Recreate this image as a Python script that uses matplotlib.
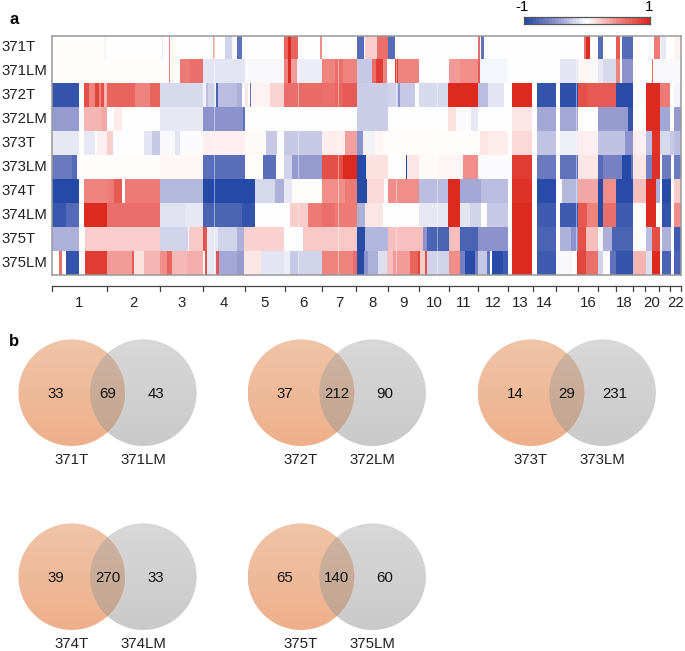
import matplotlib
matplotlib.use('Agg')
import matplotlib.pyplot as plt
import numpy as np
from matplotlib.colors import LinearSegmentedColormap, TwoSlopeNorm
from matplotlib.patches import Circle, Polygon

plt.rcParams['font.family'] = ['Liberation Sans', 'DejaVu Sans']

samples = ['371T', '371LM', '372T', '372LM', '373T', '373LM', '374T', '374LM', '375T', '375LM']

# chromosome borders along the genome axis
chrom_edges = [52, 107, 160, 203, 245, 285, 322, 356.5, 388, 419, 449, 478, 508, 533,
               556, 578, 598, 616, 633, 645, 659, 670, 681]
chrom_labels = ['1', '2', '3', '4', '5', '6', '7', '8', '9', '10', '11', '12', '13', '14',
                '', '16', '', '18', '', '20', '', '22']
# thin breaks that run through all samples
break_pos = [214, 298, 338, 396, 437, 511, 576]

# copy number per sample as (segment end, value), segments start at 52
s371T = [(104, .01), (106, -.05), (162, 0), (163, -.1), (168.5, 0), (170, .5), (213, 0), (214.5, .35),
         (225, 0), (232, -.2), (236.5, -.03), (241.5, -.7), (284, 0), (288, .65), (291, .95), (298, .65),
         (320, 0), (322, .45), (357, 0), (364, -.75), (365, 0), (377, .2), (388, .6), (395, -.75),
         (478, 0), (479.5, .6), (481, 0), (484, -.7), (584, 0), (586, .6), (590, .92), (598, 0), (603, -.75),
         (616, 0), (620, .7), (622, 0), (633, -.75), (654, 0), (660, .55), (661, 0), (666, -.1), (674, 0),
         (680, .05), (681, 0)]
s371LM = [(168.5, .01), (170, .5), (180, -.02), (190, .55), (203, .6), (245, -.12), (284, -.03), (288, .5),
          (291, .95), (297, .4), (322, -.08), (335, .5), (343, .6), (357, .5), (372, -.25), (376, .6),
          (383, .85), (387, .5), (395, 0), (397.5, .85), (419, .5), (449, 0), (460, .4), (478, .45),
          (480, .7), (508, -.04), (560, 0), (578, -.12), (590, .03), (598, -.03), (603, -.1), (616, -.18),
          (620, .5), (622, 0), (633, -.5), (652, 0), (653, .6), (681, -.03)]
s372T = [(79, -.9), (83.5, 0), (89, .75), (95, .5), (99, .8), (101, .5), (104, .75), (107, .3), (135, .65),
         (150, .5), (160, .65), (203, -.17), (206, -.05), (208, -.3), (215, -.2), (216, -.05), (218, -.8),
         (237, -.3), (242, -.35), (245, 0), (248, .1), (250, 0), (251, -.7), (270, .05), (284, .17),
         (298, .6), (322, .62), (335, .6), (343, .65), (357, .7), (388, -.22), (398, -.2), (400, -.5),
         (403, -.25), (415, -.25), (419, 0), (448, -.17), (478, .95), (488, -.3), (504, -.12), (512, 0),
         (532, .95), (537, 0), (556, -.9), (560, 0), (578, -.93), (587, .75), (616, .7), (633, -.95),
         (646, -.01), (660, .95), (670, .55), (674, 0), (681, -.05)]
s372LM = [(79, -.45), (84, 0), (102, .3), (107, .35), (114, 0), (122, .08), (160, 0), (203, -.1), (243, -.5),
          (245, -.7), (357, 0), (388, -.22), (448, 0), (456, .12), (471, -.02), (478, -.1), (512, 0),
          (532, .1), (537, 0), (556, -.4), (560, 0), (578, -.4), (598, 0), (628, -.45), (633, -.9),
          (646, 0), (660, .95), (670, -.4), (674, 0), (681, -.45)]
s373T = [(79, -.1), (84, 0), (95, -.1), (97, 0), (107, .06), (113, .2), (144, 0), (152, -.12), (160, -.25),
         (175, -.03), (180, -.12), (203, -.02), (245, .06), (266, .02), (277, -.25), (284, 0), (322, -.25),
         (345, .07), (357, .38), (363, -.5), (375, -.06), (383, .04), (480, .01), (488, .1), (508, .07),
         (512, 0), (532, .15), (537, 0), (556, -.27), (560, 0), (578, -.07), (598, .06), (625, -.28),
         (633, -.5), (646, .06), (652, -.3), (660, .9), (670, -.18), (674, -.25), (681, -.3)]
s373LM = [(72, -.65), (77, -.75), (84, 0), (160, .01), (203, .03), (245, -.72), (263, .01), (276, -.72),
          (284, .01), (292, -.2), (298, -.45), (322, -.45), (343, .75), (357, .95), (366, -.98), (388, .12),
          (406, 0), (407, -1), (419, .1), (437, .02), (463, .04), (478, .45), (512, -.02), (532, .85),
          (537, 0), (556, -.65), (560, 0), (578, -.7), (598, .1), (603, -.75), (622, -.6), (631, -1),
          (633, -.7), (646, .1), (652, -.6), (660, .9), (662, 0), (671, -.65), (674, 0), (681, -.65)]
s374T = [(79, -.97), (84, 0), (108, .5), (114, .55), (122, .7), (125, 0), (160, .55), (203, -.32), (255, -.97),
         (275, -.18), (284, -.35), (292, -.1), (322, .01), (345, .45), (357, .55), (367, -.95), (384, .15),
         (388, 0), (419, .45), (448, -.3), (460, .95), (481, -.4), (508, -.3), (512, 0), (532, .9), (537, 0),
         (556, -.95), (562, 0), (578, -.32), (598, .35), (603, -.95), (616, .45), (633, -.95), (646, .25),
         (656, .95), (660, -.35), (662, 0), (671, -.95), (674, 0), (681, .2)]
s374LM = [(66, -.88), (79, -.75), (84, 0), (107, .95), (160, .6), (185, -.13), (203, -.1), (242, -.8),
          (255, -.9), (290, 0), (308, .2), (322, .55), (335, .6), (357, .55), (365, -.35), (383, .1),
          (419, 0), (448, -.1), (460, .95), (470, -.12), (481, -.2), (487, 0), (508, -.25), (512, 0),
          (532, .95), (537, 0), (556, -.85), (560, 0), (578, -.85), (587, .7), (598, .5), (603, -.95),
          (616, .6), (633, -.85), (646, 0), (656, .95), (660, 0), (662, 0), (671, -.9), (674, 0), (681, .45)]
s375T = [(79, -.35), (85, 0), (160, .2), (188, -.2), (189, 0), (203, .22), (205, .75), (207, .7), (218, -.1),
         (237, -.2), (244, -.35), (284, .18), (303, 0), (357, .22), (365, -.95), (388, -.33), (423, .25),
         (427, -.5), (449, -.8), (460, .25), (478, -.8), (487, -.5), (508, -.5), (512, 0), (532, .95),
         (537, 0), (556, -.8), (560, 0), (571, -.35), (578, -.5), (586, .75), (598, .25), (603, -.05),
         (612, -.35), (633, -.8), (646, 0), (652, -.3), (660, .75), (662, 0), (671, -.35), (674, 0), (681, -.85)]
s375LM = [(59, 0), (62, .6), (66, 0), (79, -.9), (85, 0), (107, .85), (132, .4), (134, .7), (144, .12),
          (160, .3), (167, .45), (172, .65), (187, .28), (203, .33), (205, 0), (207, .75), (216, -.1),
          (219, .7), (237, -.4), (244, -.45), (261, .1), (284, -.12), (290, -.08), (298, -.25), (322, -.2),
          (353, .5), (357, .6), (364, -1), (368, -.5), (378, -.35), (387, -.15), (393, .25), (410, .4),
          (418, .65), (420, .8), (425, .2), (427, .75), (449, -.2), (460, .45), (465, -.6), (475, -.95),
          (478, -.6), (487, -.25), (490, -.7), (492, 0), (503, -.95), (508, -.85), (512, 0), (532, .95),
          (537, 0), (556, -.85), (570, -.03), (572, .05), (577, 0), (578, .9), (586, .8), (598, .6),
          (603, -.2), (610, 0), (616, -.7), (633, -.9), (646, .3), (652, -.15), (660, .95), (662, 0),
          (671, -.8), (674, 0), (681, -.8)]
segments = [s371T, s371LM, s372T, s372LM, s373T, s373LM, s374T, s374LM, s375T, s375LM]

# venn counts (only first, shared, only second)
venn_names = [('371T', '371LM'), ('372T', '372LM'), ('373T', '373LM'), ('374T', '374LM'), ('375T', '375LM')]
venn_counts = [(33, 69, 43), (37, 212, 90), (14, 29, 231), (39, 270, 33), (65, 140, 60)]

W, H = 685, 651
cmap = LinearSegmentedColormap.from_list('cn', [(0, '#2549a6'), (.25, '#8f94cc'), (.5, '#ffffff'),
                                                (.75, '#f08a86'), (1, '#dc2a20')])
fig = plt.figure(figsize=(W / 100, H / 100), dpi=100)


def px_axes(left, top, right, bottom):
    return fig.add_axes([left / W, 1 - bottom / H, (right - left) / W, (bottom - top) / H])


# a: heatmap
ax = px_axes(52, 35.5, 681, 275)
norm = TwoSlopeNorm(vmin=-.97, vcenter=0, vmax=.94)
for i, row in enumerate(segments):
    xs = [52] + [s[0] for s in row]
    vals = np.array([[s[1] for s in row]])
    ax.pcolormesh(xs, [i, i + 1], vals, cmap=cmap, norm=norm)
for x in break_pos:
    ax.axvline(x, color='white', lw=0.7, alpha=.45)
ax.set_xlim(52, 681)
ax.set_ylim(10, 0)
ax.set_xticks([])
ax.set_yticks([])
for sp in ax.spines.values():
    sp.set_color('#999999')
    sp.set_linewidth(1.1)

# color key
cax = px_axes(524, 16.5, 650, 24)
steps = np.linspace(-1, 1, 41)
cax.pcolormesh(np.arange(42), [0, 1], steps[None, :], cmap=cmap, vmin=-1, vmax=1)
cax.set_xticks([])
cax.set_yticks([])
for sp in cax.spines.values():
    sp.set_color('#555555')
    sp.set_linewidth(0.9)

# everything else is placed on an overlay in figure pixels
ov = fig.add_axes([0, 0, 1, 1], zorder=-1)
ov.set_xlim(0, W)
ov.set_ylim(H, 0)
ov.axis('off')
fs = 10.8

ov.text(14, 19, 'a', fontsize=12, fontweight='bold', ha='center', va='center')
ov.text(14, 341, 'b', fontsize=12, fontweight='bold', ha='center', va='center')
ov.text(522, 7, '-1', fontsize=fs, ha='center', va='center')
ov.text(649, 7, '1', fontsize=fs, ha='center', va='center')

for i, name in enumerate(samples):
    ov.text(1, 35.5 + 23.95 * (i + .5), name, fontsize=fs, ha='left', va='center', color='#222222')

# chromosome ruler
ov.plot([chrom_edges[0], chrom_edges[-1]], [285.5, 285.5], color='#444444', lw=0.9)
for x in chrom_edges:
    ov.plot([x, x], [285.5, 291], color='#444444', lw=0.9)
for j, lab in enumerate(chrom_labels):
    ov.text((chrom_edges[j] + chrom_edges[j + 1]) / 2, 303, lab, fontsize=fs, ha='center', va='center',
            color='#222222')


def gradient(patch, top, bottom, y0, y1, x0, x1):
    g = np.linspace(0, 1, 64)[:, None, None]
    img = (1 - g) * np.array(top)[None, None, :] + g * np.array(bottom)[None, None, :]
    im = ov.imshow(img / 255, extent=(x0, x1, y1, y0), aspect='auto', zorder=2, interpolation='bilinear')
    patch.set_transform(ov.transData)
    im.set_clip_path(patch)


def venn(cx, cy, names, counts, label_y):
    r = 53.3
    dx = 71.6
    gray = Circle((cx + dx, cy), r)
    orange = Circle((cx, cy), r)
    gradient(gray, (216, 216, 216), (202, 202, 202), cy - r, cy + r, cx + dx - r, cx + dx + r)
    gradient(orange, (240, 196, 168), (238, 176, 138), cy - r, cy + r, cx - r, cx + r)
    # lens shared by the two circles
    half = np.arccos(dx / 2 / r)
    t = np.linspace(-half, half, 40)
    right = np.c_[cx + r * np.cos(t), cy + r * np.sin(t)]
    left = np.c_[cx + dx - r * np.cos(t[::-1]), cy + r * np.sin(t[::-1])]
    lens = Polygon(np.r_[right, left], closed=True)
    gradient(lens, (206, 180, 162), (194, 164, 142), cy - r, cy + r, cx, cx + dx)
    for off, c in zip((-16, 36, 84), counts):
        ov.text(cx + off, cy + 1, str(c), fontsize=fs, ha='center', va='center', color='#111111', zorder=3)
    ov.text(cx, label_y, names[0], fontsize=fs, ha='center', va='center', color='#222222')
    ov.text(cx + dx, label_y, names[1], fontsize=fs, ha='center', va='center', color='#222222')


venn_pos = [(71.7, 392.7, 460.5), (301, 392.7, 460.5), (531, 392.7, 460.5), (71.7, 576.7, 643.5), (301, 576.7, 643.5)]
for (cx, cy, ly), names, counts in zip(venn_pos, venn_names, venn_counts):
    venn(cx, cy, names, counts, ly)
ov.set_xlim(0, W)
ov.set_ylim(H, 0)

fig.savefig('out.png', dpi=100)
